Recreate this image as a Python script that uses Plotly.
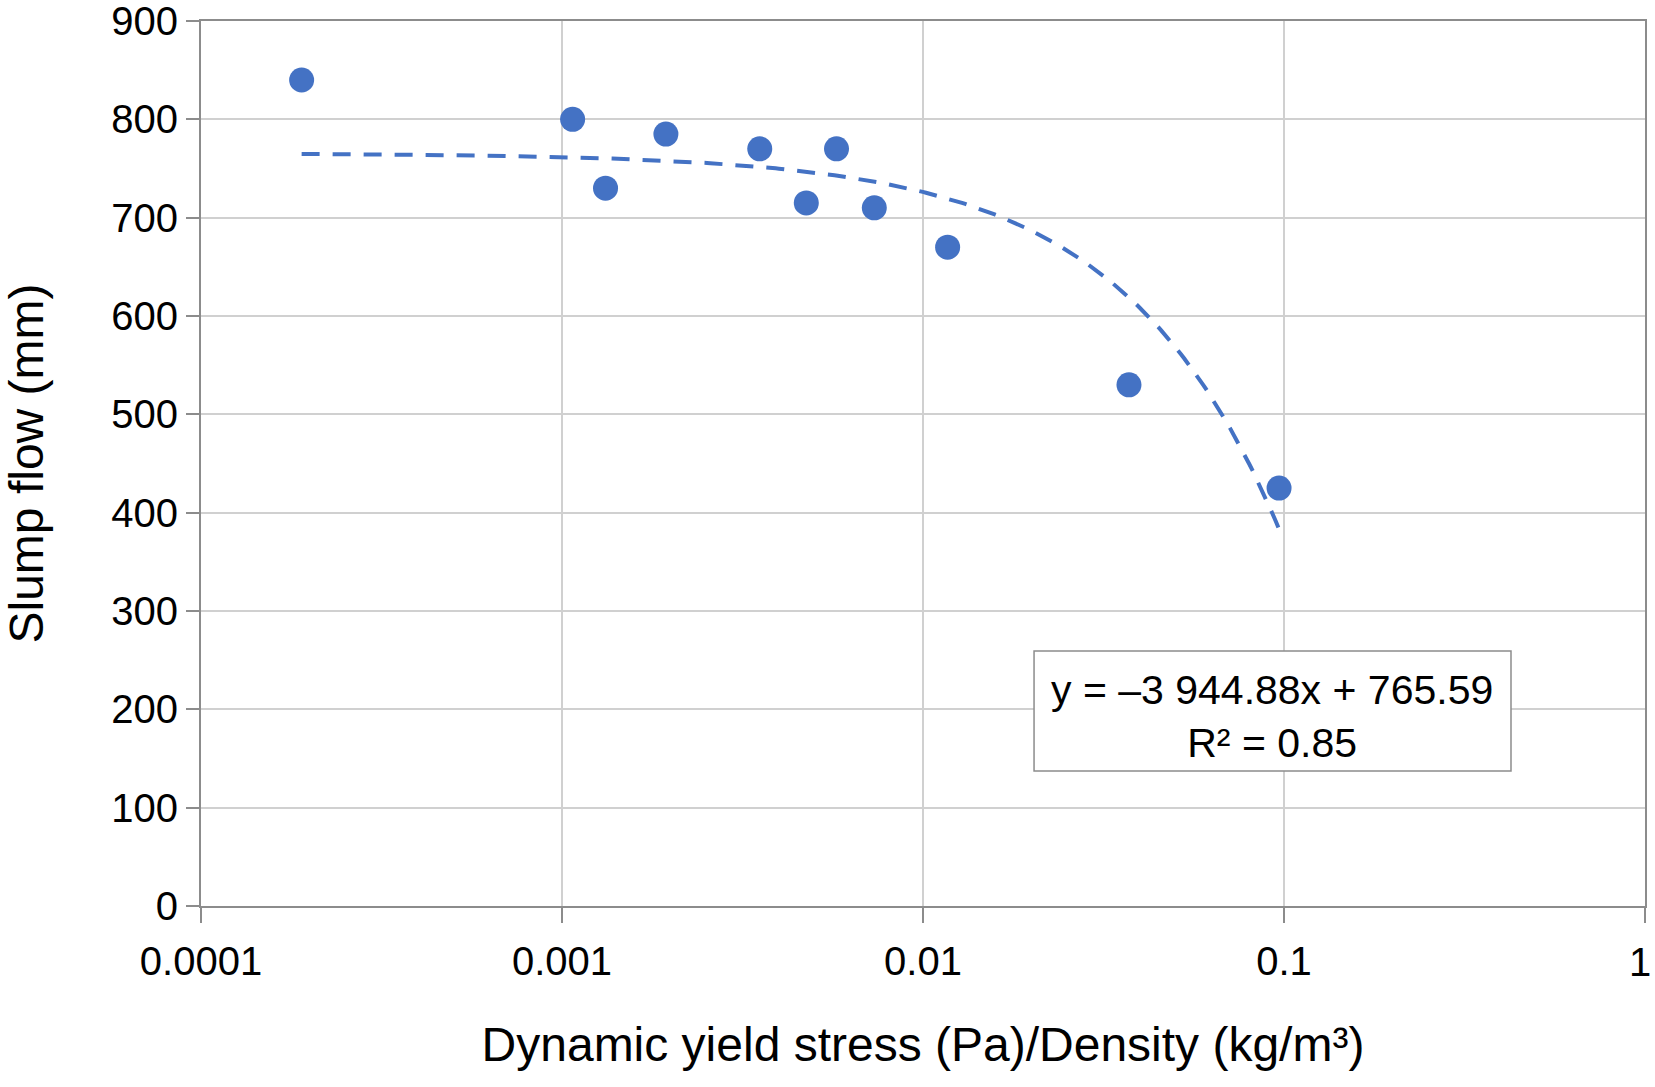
import plotly.graph_objects as go
import numpy as np

# Data
yield_stress_density = [0.00019, 0.00107, 0.00132, 0.00194, 0.00353, 0.00475,
                        0.00576, 0.00733, 0.0117, 0.0372, 0.0969]
slump_flow = [840, 800, 730, 785, 770, 715, 770, 710, 670, 530, 425]

# Linear trendline coefficients (shown in chart)
slope = -3944.88
intercept = 765.59
r_squared = 0.85

x_ticks = [0.0001, 0.001, 0.01, 0.1, 1]
x_tick_labels = ["0.0001", "0.001", "0.01", "0.1", "1"]
y_ticks = [0, 100, 200, 300, 400, 500, 600, 700, 800, 900]

BLUE = "#4472C4"
FONT = "Liberation Sans, Arial, Helvetica, sans-serif"

trend_x = np.geomspace(min(yield_stress_density), max(yield_stress_density), 300)
trend_y = slope * trend_x + intercept

fig = go.Figure()
fig.add_trace(go.Scatter(
    x=trend_x, y=trend_y, mode="lines",
    line=dict(color=BLUE, width=4, dash="18px,13px"),
    hoverinfo="skip", showlegend=False,
))
fig.add_trace(go.Scatter(
    x=yield_stress_density, y=slump_flow, mode="markers",
    marker=dict(color=BLUE, size=25, line=dict(width=0)),
    showlegend=False,
))

axis_common = dict(
    showline=True, linecolor="#8c8c8c", linewidth=2, mirror=True,
    showgrid=True, gridcolor="#d0d0d0", gridwidth=1.5,
    ticks="outside", tickcolor="#8c8c8c", tickwidth=1.5,
    tickfont=dict(family=FONT, size=40, color="black"),
    ticklabeloverflow="allow",
    zeroline=False,
)

# The last x label ("1") sits at the right window edge; like the original it is
# nudged left so it stays fully visible, so it is drawn as an annotation.
axis_tick_text = x_tick_labels[:-1] + [""]

fig.update_xaxes(
    type="log", range=[-4, 0],
    tickvals=x_ticks, ticktext=axis_tick_text, ticklen=15,
    ticklabelstandoff=4,
    title=dict(text="Dynamic yield stress (Pa)/Density (kg/m³)",
               font=dict(family=FONT, size=48, color="black"), standoff=45),
    **axis_common,
)
fig.update_yaxes(
    range=[0, 900], tickvals=y_ticks, ticklen=13,
    title=dict(text="Slump flow (mm)",
               font=dict(family=FONT, size=48, color="black"), standoff=55),
    **axis_common,
)

fig.add_annotation(xref="x", yref="paper", x=np.log10(x_ticks[-1]), y=0,
                   xanchor="right", yanchor="middle", xshift=8, yshift=-56,
                   text=x_tick_labels[-1], showarrow=False,
                   font=dict(family=FONT, size=40, color="black"))

eq_text = f"y = –3 944.88x + {intercept}<br>R² = {r_squared}"
fig.add_shape(type="rect", xref="paper", yref="paper",
              x0=0.5769, x1=0.9072, y0=0.1525, y1=0.2881,
              line=dict(color="#8c8c8c", width=1.5), fillcolor="white", layer="above")
fig.add_annotation(xref="paper", yref="paper", x=0.742, y=0.2141,
                   xanchor="center", yanchor="middle",
                   text=eq_text, showarrow=False, align="center",
                   font=dict(family=FONT, size=41, color="black"))

fig.update_layout(
    width=1655, height=1087,
    margin=dict(l=201, r=10, t=21, b=181, autoexpand=False),
    plot_bgcolor="white", paper_bgcolor="white",
)

# Remove the default page body margin so the figure fills the window exactly
fig.write_html("out.html", config={"displayModeBar": False},
               post_script="document.body.style.margin='0px';")
